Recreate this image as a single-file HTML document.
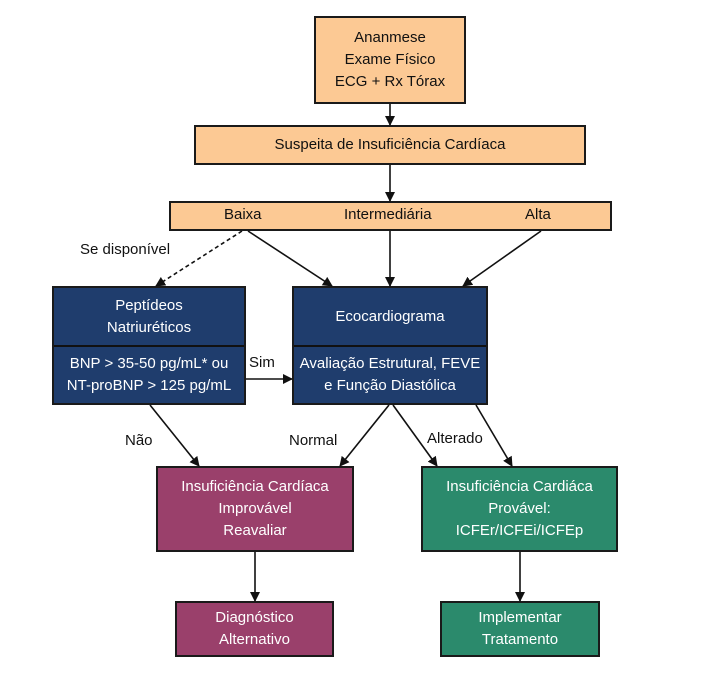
<!DOCTYPE html>
<html><head><meta charset="utf-8"><style>
body{margin:0;width:720px;height:678px;background:#fff;position:relative;font-family:"Liberation Sans",sans-serif;overflow:hidden}
.b{position:absolute;box-sizing:border-box;border:2px solid #1a1a1a;display:flex;flex-direction:column;align-items:center;justify-content:center;text-align:center;font-size:15px;line-height:22px}
.o{background:#fcc994;color:#111}
.n{background:#1f3d6d;color:#fff}
.p{background:#9a406b;color:#fff}
.g{background:#2b8a6c;color:#fff}
.l{position:absolute;font-size:15px;color:#111}
</style></head><body>
<div class="b o" style="left:314px;top:16px;width:152px;height:88px">Ananmese<br>Exame Físico<br>ECG + Rx Tórax</div>
<div class="b o" style="left:194px;top:125px;width:392px;height:40px">Suspeita de Insuficiência Cardíaca</div>
<div class="b o" style="left:169px;top:201px;width:443px;height:30px"></div>
<div class="l" style="left:224px;top:206px">Baixa</div>
<div class="l" style="left:344px;top:206px">Intermediária</div>
<div class="l" style="left:525px;top:206px">Alta</div>
<div class="b n" style="left:52px;top:286px;width:194px;height:119px;justify-content:flex-start">
<div style="height:57px;width:100%;display:flex;align-items:center;justify-content:center;border-bottom:2px solid #111">Peptídeos<br>Natriuréticos</div>
<div style="flex:1;display:flex;align-items:center;justify-content:center">BNP &gt; 35-50 pg/mL* ou<br>NT-proBNP &gt; 125 pg/mL</div></div>
<div class="b n" style="left:292px;top:286px;width:196px;height:119px;justify-content:flex-start">
<div style="height:57px;width:100%;display:flex;align-items:center;justify-content:center;border-bottom:2px solid #111">Ecocardiograma</div>
<div style="flex:1;display:flex;align-items:center;justify-content:center;white-space:nowrap">Avaliação Estrutural, FEVE<br>e Função Diastólica</div></div>
<div class="b p" style="left:156px;top:466px;width:198px;height:86px">Insuficiência Cardíaca<br>Improvável<br>Reavaliar</div>
<div class="b g" style="left:421px;top:466px;width:197px;height:86px">Insuficiência Cardiáca<br>Provável:<br>ICFEr/ICFEi/ICFEp</div>
<div class="b p" style="left:175px;top:601px;width:159px;height:56px">Diagnóstico<br>Alternativo</div>
<div class="b g" style="left:440px;top:601px;width:160px;height:56px">Implementar<br>Tratamento</div>
<div class="l" style="left:80px;top:241px">Se disponível</div>
<div class="l" style="left:249px;top:354px">Sim</div>
<div class="l" style="left:125px;top:432px">Não</div>
<div class="l" style="left:289px;top:432px">Normal</div>
<div class="l" style="left:427px;top:430px">Alterado</div>
<svg width="720" height="678" style="position:absolute;left:0;top:0">
<defs><marker id="a" markerWidth="10" markerHeight="10" refX="9" refY="5" orient="auto" markerUnits="userSpaceOnUse"><path d="M0,0L10,5L0,10z" fill="#111"/></marker></defs>
<g stroke="#111" stroke-width="1.6" fill="none" marker-end="url(#a)">
<line x1="390" y1="104" x2="390" y2="125"/>
<line x1="390" y1="165" x2="390" y2="201"/>
<line x1="242" y1="231" x2="156" y2="286" stroke-dasharray="4,3"/>
<line x1="248" y1="231" x2="332" y2="286"/>
<line x1="390" y1="231" x2="390" y2="286"/>
<line x1="541" y1="231" x2="463" y2="286"/>
<line x1="246" y1="379" x2="292" y2="379"/>
<line x1="150" y1="405" x2="199" y2="466"/>
<line x1="389" y1="405" x2="340" y2="466"/>
<line x1="393" y1="405" x2="437" y2="466"/>
<line x1="476" y1="405" x2="512" y2="466"/>
<line x1="255" y1="552" x2="255" y2="601"/>
<line x1="520" y1="552" x2="520" y2="601"/>
</g></svg>
</body></html>
